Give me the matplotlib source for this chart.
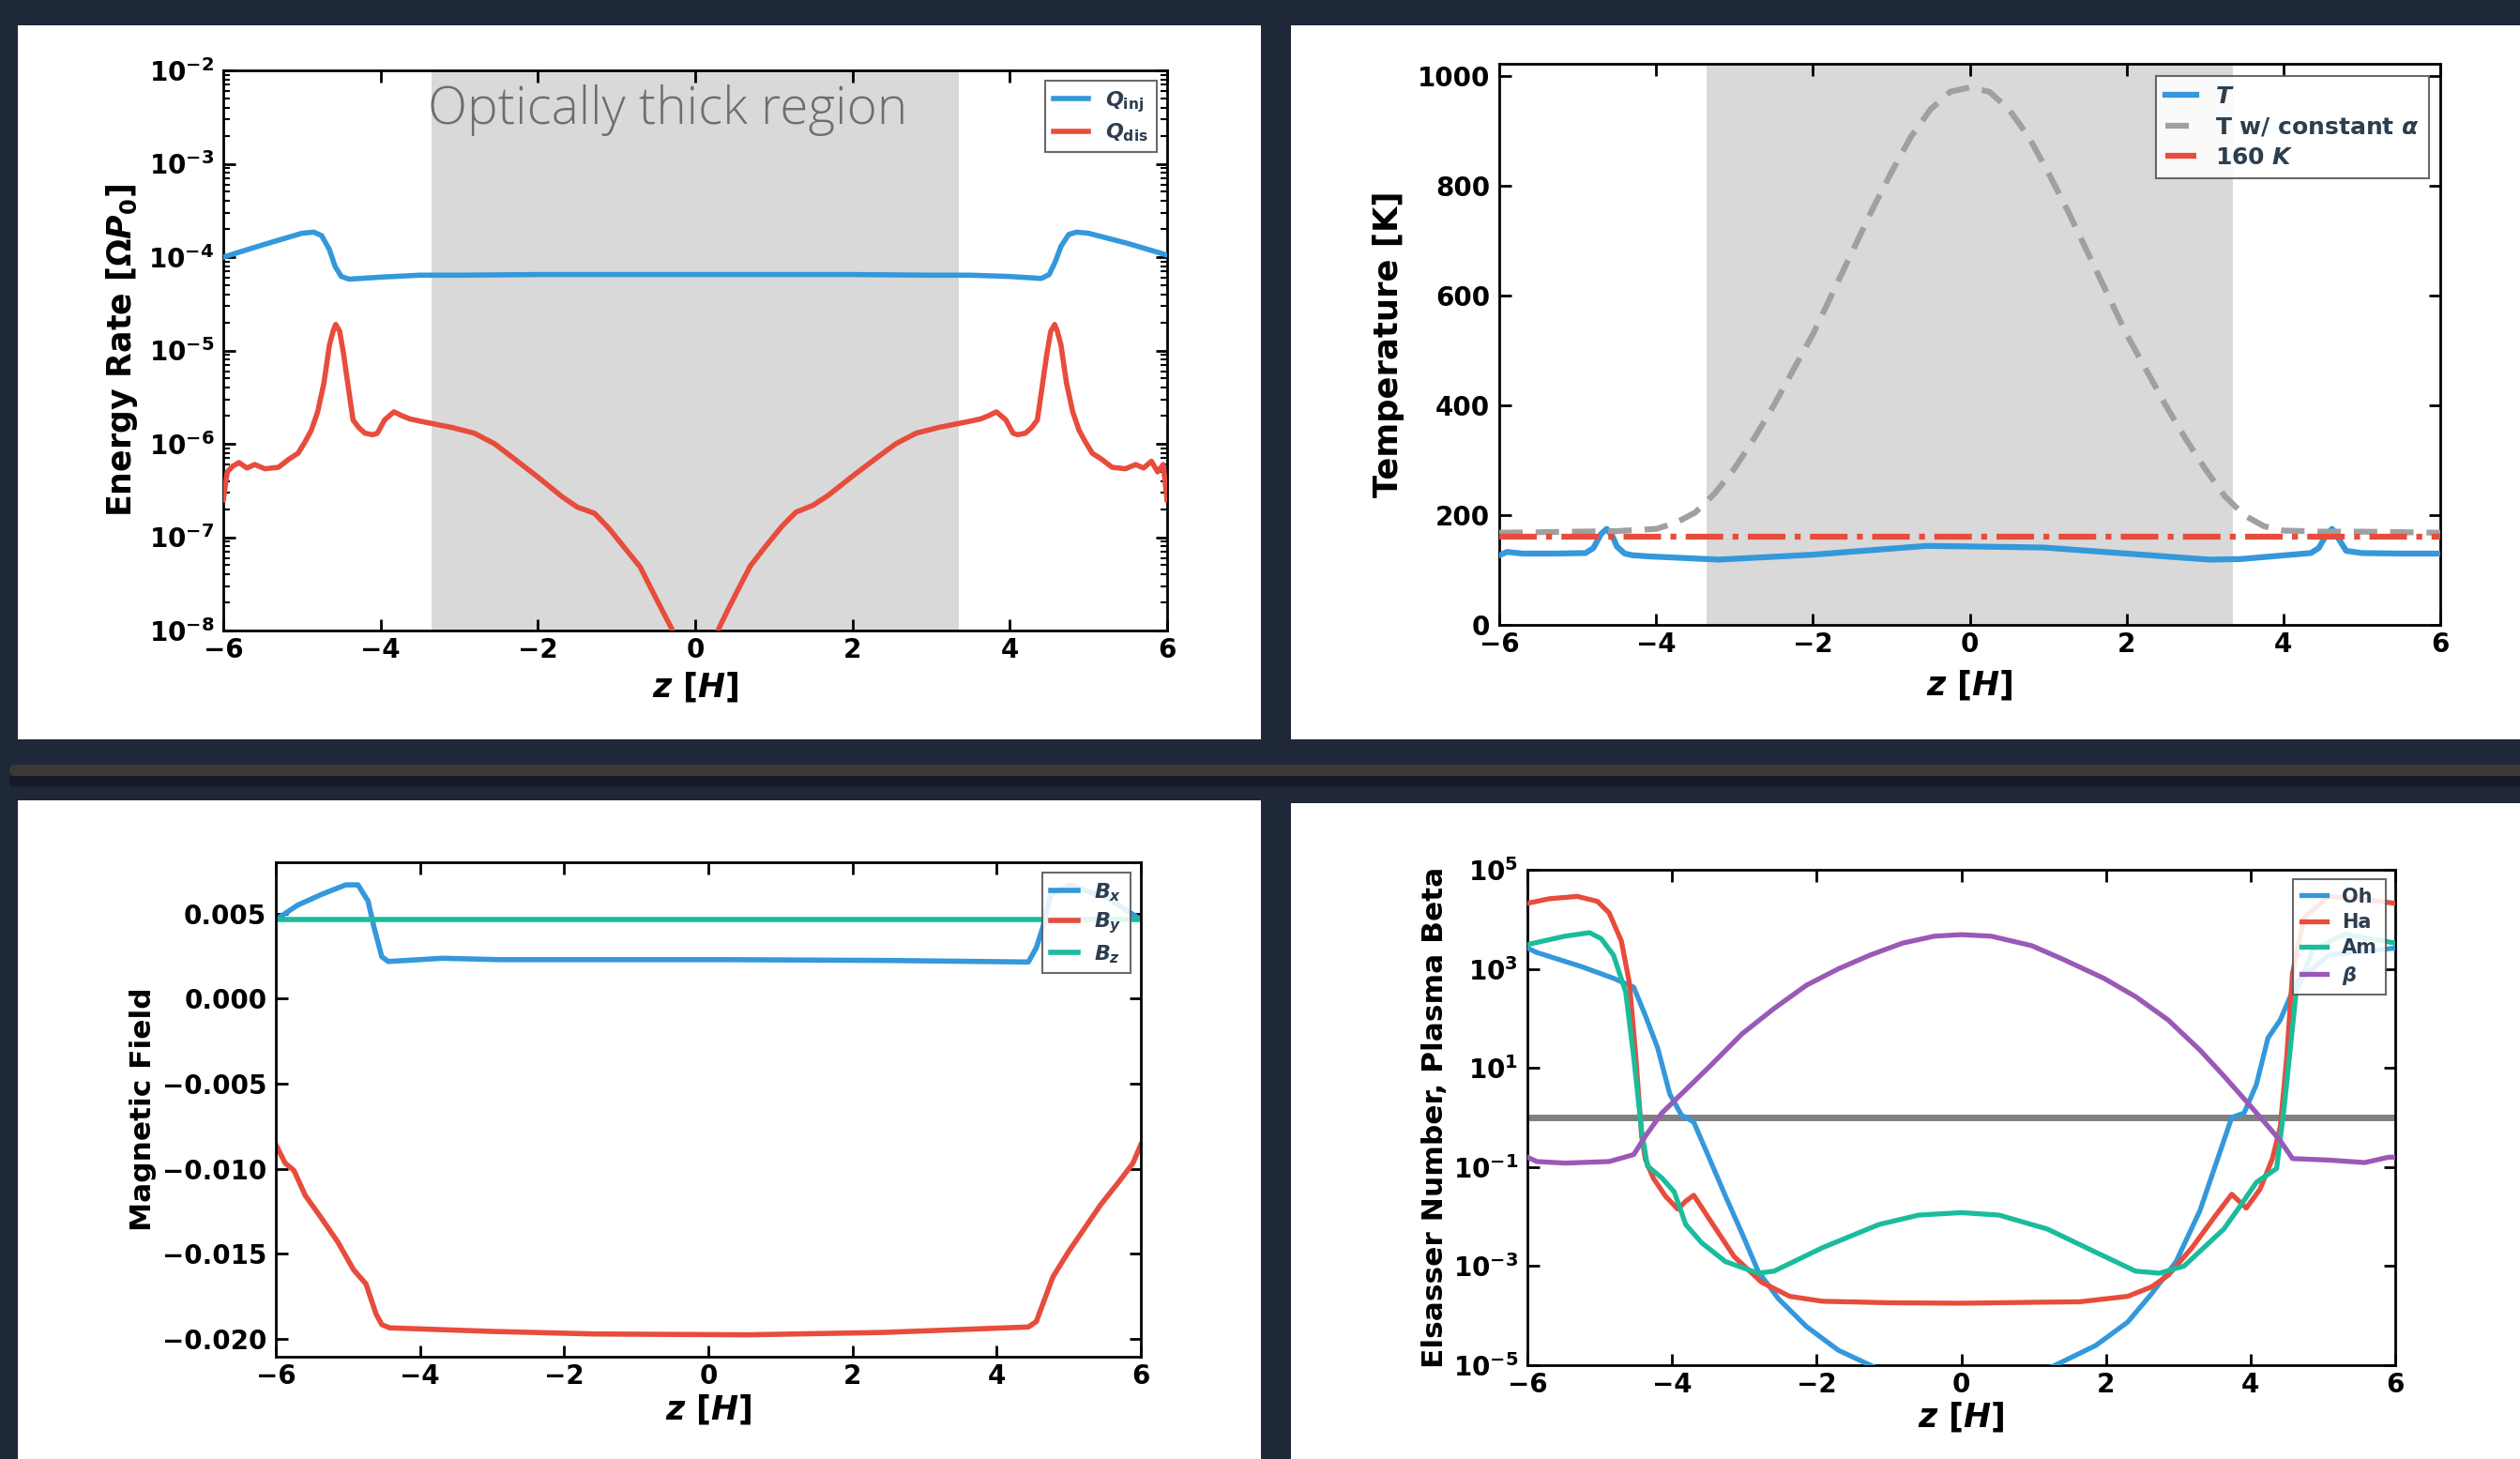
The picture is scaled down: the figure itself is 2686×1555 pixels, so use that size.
import numpy as np
import matplotlib
matplotlib.use('Agg')
import matplotlib.pyplot as plt
from matplotlib.patches import Rectangle, FancyBboxPatch
from matplotlib.ticker import NullLocator

plt.rcParams['font.family'] = 'DejaVu Sans'
plt.rcParams['font.weight'] = 'bold'
plt.rcParams['axes.labelweight'] = 'bold'
plt.rcParams['mathtext.fontset'] = 'custom'
plt.rcParams['mathtext.rm'] = 'DejaVu Sans:bold'
plt.rcParams['mathtext.it'] = 'DejaVu Sans:bold:italic'
plt.rcParams['mathtext.bf'] = 'DejaVu Sans:bold'
plt.rcParams['axes.linewidth'] = 2.0

# --- colours ---
NAVY = '#1f2838'
BLUE = '#3498db'
RED = '#e74c3c'
GREEN = '#1abc9c'
PURPLE = '#9b59b6'
LEG_TXT = '#2c3e50'

# --- top left: energy rates ---
z_inj = [-6.0, -5.5, -5.0, -4.85, -4.75, -4.65, -4.58, -4.5, -4.4, -4.0, -3.5, -3.0, -2.0, -1.0, 0.0,
         1.0, 2.0, 3.0, 3.5, 4.0, 4.4, 4.5, 4.58, 4.65, 4.75, 4.85, 5.0, 5.5, 6.0]
q_inj = [1.0e-4, 1.35e-4, 1.8e-4, 1.85e-4, 1.7e-4, 1.2e-4, 8.0e-5, 6.2e-5, 5.8e-5, 6.1e-5, 6.4e-5, 6.4e-5,
         6.5e-5, 6.5e-5, 6.5e-5, 6.5e-5, 6.5e-5, 6.4e-5, 6.4e-5, 6.2e-5, 5.9e-5, 6.5e-5, 9.0e-5, 1.3e-4,
         1.75e-4, 1.85e-4, 1.8e-4, 1.4e-4, 1.05e-4]

z_dis = [-6.0, -5.95, -5.88, -5.8, -5.7, -5.6, -5.47, -5.3, -5.16, -5.05, -4.96, -4.88, -4.8, -4.72, -4.65,
         -4.6, -4.57, -4.52, -4.47, -4.4, -4.35, -4.28, -4.2, -4.1, -4.04, -3.95, -3.83, -3.73, -3.63, -3.5,
         -3.35, -3.1, -2.81, -2.55, -2.3, -2.0, -1.69, -1.5, -1.28, -1.1, -0.87, -0.7, -0.56, -0.42, -0.3,
         -0.25,
         0.25, 0.3, 0.42, 0.56, 0.7, 0.87, 1.1, 1.28, 1.5, 1.69, 2.0, 2.3, 2.55, 2.81, 3.1, 3.35, 3.5,
         3.63, 3.73, 3.83, 3.95, 4.04, 4.1, 4.2, 4.28, 4.35, 4.4, 4.47, 4.52, 4.57, 4.6, 4.65, 4.72, 4.8,
         4.88, 4.96, 5.05, 5.16, 5.3, 5.47, 5.6, 5.7, 5.8, 5.88, 5.95, 6.0]
q_dis = [2.5e-7, 5.0e-7, 5.75e-7, 6.3e-7, 5.5e-7, 6.0e-7, 5.4e-7, 5.6e-7, 6.9e-7, 7.9e-7, 1.05e-6, 1.4e-6,
         2.2e-6, 4.5e-6, 1.15e-5, 1.65e-5, 1.9e-5, 1.6e-5, 9.1e-6, 3.5e-6, 1.8e-6, 1.5e-6, 1.3e-6, 1.25e-6,
         1.3e-6, 1.8e-6, 2.2e-6, 2.0e-6, 1.85e-6, 1.75e-6, 1.65e-6, 1.5e-6, 1.3e-6, 1.0e-6, 6.9e-7, 4.4e-7,
         2.7e-7, 2.1e-7, 1.8e-7, 1.25e-7, 7.2e-8, 4.8e-8, 2.8e-8, 1.65e-8, 1.05e-8, 7.9e-9,
         7.9e-9, 1.05e-8, 1.7e-8, 2.9e-8, 4.9e-8, 7.5e-8, 1.3e-7, 1.85e-7, 2.2e-7, 2.8e-7, 4.5e-7, 7.0e-7,
         1.0e-6, 1.3e-6, 1.5e-6, 1.65e-6, 1.75e-6, 1.85e-6, 2.0e-6, 2.2e-6, 1.8e-6, 1.3e-6, 1.25e-6,
         1.3e-6, 1.5e-6, 1.8e-6, 3.5e-6, 9.1e-6, 1.6e-5, 1.9e-5, 1.65e-5, 1.15e-5, 4.5e-6, 2.2e-6, 1.4e-6,
         1.05e-6, 7.9e-7, 6.9e-7, 5.6e-7, 5.4e-7, 6.0e-7, 5.5e-7, 6.5e-7, 5.0e-7, 6.0e-7, 2.5e-7]

# --- top right: temperature ---
z_tconst = [-6, -5, -4.5, -4.0, -3.75, -3.5, -3.25, -3.0, -2.75, -2.5, -2.25, -2.0, -1.75, -1.5, -1.25, -1.0,
            -0.75, -0.5, -0.25, 0, 0.25, 0.5, 0.75, 1.0, 1.25, 1.5, 1.75, 2.0, 2.25, 2.5, 2.75, 3.0, 3.25,
            3.5, 3.75, 4.0, 4.5, 5, 6]
t_const = [168, 170, 171, 175, 186, 205, 240, 285, 340, 400, 465, 530, 605, 680, 755, 825, 890, 940, 972,
           980, 972, 940, 890, 825, 755, 680, 605, 530, 465, 400, 340, 285, 235, 200, 180, 172, 170, 170, 168]

z_temp = [-6, -5.9, -5.7, -5.3, -4.9, -4.8, -4.7, -4.63, -4.55, -4.5, -4.4, -4.3, -4.1, -3.2, -2.0, -0.55,
          0.0, 0.95, 2.0, 3.05, 3.45, 4.35, 4.45, 4.55, 4.62, 4.7, 4.8, 5.0, 5.5, 6.0]
temp = [127, 133, 130, 130, 131, 140, 166, 175, 160, 143, 130, 127, 125, 119, 128, 144, 143, 141, 130, 119,
        120, 131, 140, 165, 175, 158, 135, 131, 130, 130]
T_ICE = 160

# --- bottom left: magnetic field ---
z_bx = [-6, -5.7, -5.36, -5.03, -4.86, -4.72, -4.64, -4.53, -4.44, -3.69, -2.91, 0.2, 2.5, 4.44, 4.55, 4.64,
        4.75, 5.0, 5.55, 6]
bx = [0.00465, 0.0055, 0.00615, 0.0067, 0.0067, 0.00574, 0.00424, 0.00247, 0.00219, 0.00238, 0.0023,
      0.0023, 0.00225, 0.00216, 0.0030, 0.0042, 0.0061, 0.0067, 0.0059, 0.00465]
z_by = [-6, -5.87, -5.75, -5.59, -5.36, -5.14, -4.92, -4.75, -4.61, -4.53, -4.42, -3.0, -1.58, 0.54, 2.43,
        4.44, 4.55, 4.78, 5.0, 5.44, 5.72, 5.89, 6]
by = [-0.00859, -0.00968, -0.0101, -0.01159, -0.01296, -0.01432, -0.01596, -0.01678, -0.01855, -0.01918,
      -0.01937, -0.01958, -0.01973, -0.01978, -0.01964, -0.01932, -0.0190, -0.01637, -0.01487, -0.01214,
      -0.01064, -0.00968, -0.00859]
z_bz = [-6, 6]
bz = [0.00465, 0.00465]

# --- bottom right: Elsasser numbers and plasma beta ---
z_oh = [-6, -5.87, -5.26, -4.81, -4.53, -4.37, -4.2, -4.03, -3.87, -3.7, -3.48, -3.26, -3.03, -2.81, -2.53,
        -2.14, -1.7, -1.26, -0.8, -0.4, 0, 0.4, 0.85, 1.3, 1.86, 2.3, 2.63, 2.97, 3.3, 3.52, 3.74, 3.91,
        4.08, 4.24, 4.41, 4.63, 5.08, 6]
oh = [2630, 2140, 1120, 646, 427, 115, 25.7, 2.95, 1.12, 0.81, 0.145, 0.0257, 4.5e-3, 7.9e-4, 2.2e-4,
      6.0e-5, 2.0e-5, 1.0e-5, 5.0e-6, 3.5e-6, 3.2e-6, 3.5e-6, 5.0e-6, 1.0e-5, 2.5e-5, 7.4e-5, 2.75e-4,
      1.23e-3, 0.0132, 0.115, 1.0, 1.23, 4.6, 40, 93, 525, 1900, 2630]
z_ha = [-6, -5.7, -5.31, -5.03, -4.87, -4.7, -4.59, -4.5, -4.42, -4.37, -4.26, -4.09, -3.92, -3.81, -3.7,
        -3.48, -3.14, -2.76, -2.37, -1.92, -1.0, 0, 1.0, 1.63, 2.3, 2.63, 2.86, 3.19, 3.52, 3.74, 3.94, 4.13,
        4.3, 4.41, 4.5, 4.58, 4.74, 5.08, 5.5, 6]
ha = [2.1e4, 2.6e4, 2.9e4, 2.3e4, 1.35e4, 3630, 525, 16.6, 0.417, 0.145, 0.060, 0.0257, 0.0141, 0.0204,
      0.0269, 8.7e-3, 1.55e-3, 4.7e-4, 2.45e-4, 1.95e-4, 1.82e-4, 1.78e-4, 1.86e-4, 1.9e-4, 2.45e-4,
      3.8e-4, 6.5e-4, 2.35e-3, 0.0107, 0.0282, 0.0148, 0.0355, 0.145, 0.645, 16.6, 813, 1.07e4, 2.9e4,
      2.6e4, 2.1e4]
z_am = [-6, -5.48, -5.14, -4.98, -4.81, -4.64, -4.53, -4.42, -4.34, -4.14, -3.97, -3.81, -3.59, -3.26, -2.81,
        -2.59, -1.92, -1.14, -0.59, 0, 0.52, 1.19, 1.86, 2.41, 2.74, 3.08, 3.63, 3.86, 4.08, 4.36, 4.47,
        4.63, 4.86, 5.3, 6]
am = [3090, 4570, 5370, 4070, 1900, 339, 16.6, 0.525, 0.105, 0.060, 0.0316, 6.9e-3, 2.95e-3, 1.23e-3,
      7.2e-4, 7.9e-4, 2.35e-3, 6.9e-3, 0.0107, 0.0120, 0.0107, 5.6e-3, 1.9e-3, 7.9e-4, 7.2e-4, 1.0e-3,
      5.6e-3, 0.0166, 0.049, 0.093, 1.9, 339, 2400, 5010, 3310]
z_beta = [-6, -5.87, -5.48, -4.87, -4.53, -4.37, -4.14, -3.81, -3.48, -3.03, -2.59, -2.14, -1.7, -1.26,
          -0.81, -0.37, 0, 0.41, 0.97, 1.41, 1.97, 2.41, 2.86, 3.3, 3.63, 3.97, 4.19, 4.41, 4.58, 5.08, 5.58,
          5.91, 6]
beta = [0.158, 0.129, 0.12, 0.129, 0.178, 0.417, 1.23, 3.63, 10.7, 49, 158, 468, 1000, 1900, 3310, 4570,
        4900, 4570, 2950, 1550, 646, 275, 93, 22.9, 6.9, 1.9, 0.81, 0.34, 0.148, 0.138, 0.123, 0.158, 0.158]

THICK = (-3.35, 3.35)
xticks = [-6, -4, -2, 0, 2, 4, 6]

W, H = 2686, 1555
fig = plt.figure(figsize=(W / 100, H / 100), dpi=100, facecolor=NAVY)


def px_box(x0, y0, x1, y1):
    return [x0 / W, 1 - y1 / H, (x1 - x0) / W, (y1 - y0) / H]


# white panels and separator bar
for x0, y0, x1, y1 in [(19, 27, 1344, 788), (1376, 27, 2686, 788),
                       (19, 853, 1344, 1555), (1376, 856, 2686, 1555)]:
    b = px_box(x0, y0, x1, y1)
    fig.add_artist(Rectangle((b[0], b[1]), b[2], b[3], transform=fig.transFigure,
                             facecolor='white', edgecolor='none', zorder=-5))
b = px_box(10, 827, 2686, 838)
fig.add_artist(Rectangle((b[0], b[1]), b[2], b[3], transform=fig.transFigure,
                         facecolor='#161b27', edgecolor='none', zorder=-5))
b = px_box(10, 815, 2700, 827)
fig.add_artist(FancyBboxPatch((b[0], b[1]), b[2], b[3], transform=fig.transFigure,
                              boxstyle='round,pad=0,rounding_size=0.0022', mutation_aspect=W / H,
                              facecolor='#3b3936', edgecolor='none', zorder=-4))


def style(ax):
    ax.set_xlim(-6, 6)
    ax.set_xticks(xticks)
    ax.xaxis.set_minor_locator(NullLocator())
    ax.tick_params(which='both', direction='in', top=True, right=True, labelsize=20, colors='black')
    ax.tick_params(which='major', length=9, width=2)
    ax.tick_params(which='minor', length=5, width=1.5)
    ax.tick_params(axis='x', pad=5)
    ax.tick_params(axis='y', pad=7)
    ax.set_facecolor('white')


def add_legend(ax, size, hl=1.3):
    leg = ax.legend(loc='upper right', prop={'weight': 'bold', 'size': size}, labelcolor=LEG_TXT,
                    fancybox=False, framealpha=0.88, handlelength=hl, handletextpad=0.8,
                    borderaxespad=0.5, labelspacing=0.35, borderpad=0.4)
    leg.get_frame().set_edgecolor('#555555')
    leg.get_frame().set_linewidth(1.5)
    leg.set_zorder(10)
    return leg


def set_labels(ax, ylabel, ysize, yx, xy):
    ax.set_xlabel(r'$z$ $[H]$', fontsize=25)
    ax.xaxis.set_label_coords(0.5, xy)
    ax.set_ylabel(ylabel, fontsize=ysize, fontweight='bold')
    ax.yaxis.set_label_coords(yx, 0.5)


# top left
ax1 = fig.add_axes(px_box(238, 75, 1244, 672))
style(ax1)
ax1.axvspan(*THICK, color='#d9d9d9', lw=0, zorder=0)
ax1.plot(z_inj, q_inj, color=BLUE, lw=4, label=r'$Q_{\rm inj}$', zorder=3)
ax1.plot(z_dis, q_dis, color=RED, lw=4, label=r'$Q_{\rm dis}$', zorder=3)
ax1.set_yscale('log')
ax1.set_ylim(1e-8, 1e-2)
ax1.set_yticks([1e-8, 1e-7, 1e-6, 1e-5, 1e-4, 1e-3, 1e-2])
ax1.text(-3.4, 3.7e-3, 'Optically thick region', family='Open Sans', fontweight='light', fontsize=39.5,
         color='#6e6e6e', ha='left', va='center', zorder=4)
add_legend(ax1, 16, hl=1.7)
set_labels(ax1, r'Energy Rate [$\Omega P_0$]', 25, -0.088, -0.07)

# top right
ax2 = fig.add_axes(px_box(1598, 68, 2601, 666))
style(ax2)
ax2.axvspan(*THICK, color='#d9d9d9', lw=0, zorder=0)
ax2.plot(z_temp, temp, color=BLUE, lw=4.5, label=r'$T$', zorder=3)
ax2.plot(z_tconst, t_const, color='#a0a0a0', lw=4.5, dashes=(4, 2.2), label=r'T w/ constant $\alpha$',
         zorder=3)
ax2.plot([-6, 6], [T_ICE, T_ICE], color=RED, lw=4.5, ls='-.', label=r'160 $K$', zorder=3)
ax2.set_ylim(0, 1023)
ax2.set_yticks([0, 200, 400, 600, 800, 1000])
ax2.yaxis.set_minor_locator(NullLocator())
add_legend(ax2, 18)
set_labels(ax2, 'Temperature [K]', 25.5, -0.101, -0.077)

# bottom left
ax3 = fig.add_axes(px_box(294, 919, 1216, 1446))
style(ax3)
ax3.plot(z_bx, bx, color=BLUE, lw=4, label=r'$B_x$')
ax3.plot(z_by, by, color=RED, lw=4, label=r'$B_y$')
ax3.plot(z_bz, bz, color=GREEN, lw=4, label=r'$B_z$')
ax3.set_ylim(-0.02107, 0.00803)
ax3.set_yticks([-0.020, -0.015, -0.010, -0.005, 0.000, 0.005])
ax3.yaxis.set_minor_locator(NullLocator())
add_legend(ax3, 16)
set_labels(ax3, 'Magnetic Field', 22.5, -0.138, -0.072)

# bottom right
ax4 = fig.add_axes(px_box(1628, 927, 2553, 1455))
style(ax4)
ax4.plot([-6, 6], [1, 1], color='#808080', lw=5, zorder=1)
ax4.plot(z_oh, oh, color=BLUE, lw=3.8, label='Oh', zorder=3)
ax4.plot(z_ha, ha, color=RED, lw=3.8, label='Ha', zorder=3)
ax4.plot(z_am, am, color=GREEN, lw=3.8, label='Am', zorder=3)
ax4.plot(z_beta, beta, color=PURPLE, lw=3.8, label=r'$\beta$', zorder=3)
ax4.set_yscale('log')
ax4.set_ylim(1e-5, 1e5)
ax4.set_yticks([1e-5, 1e-3, 1e-1, 1e1, 1e3, 1e5])
ax4.yaxis.set_minor_locator(NullLocator())
add_legend(ax4, 15)
set_labels(ax4, 'Elsasser Number, Plasma Beta', 22.5, -0.091, -0.070)

fig.savefig('out.png', dpi=100, facecolor=NAVY)
